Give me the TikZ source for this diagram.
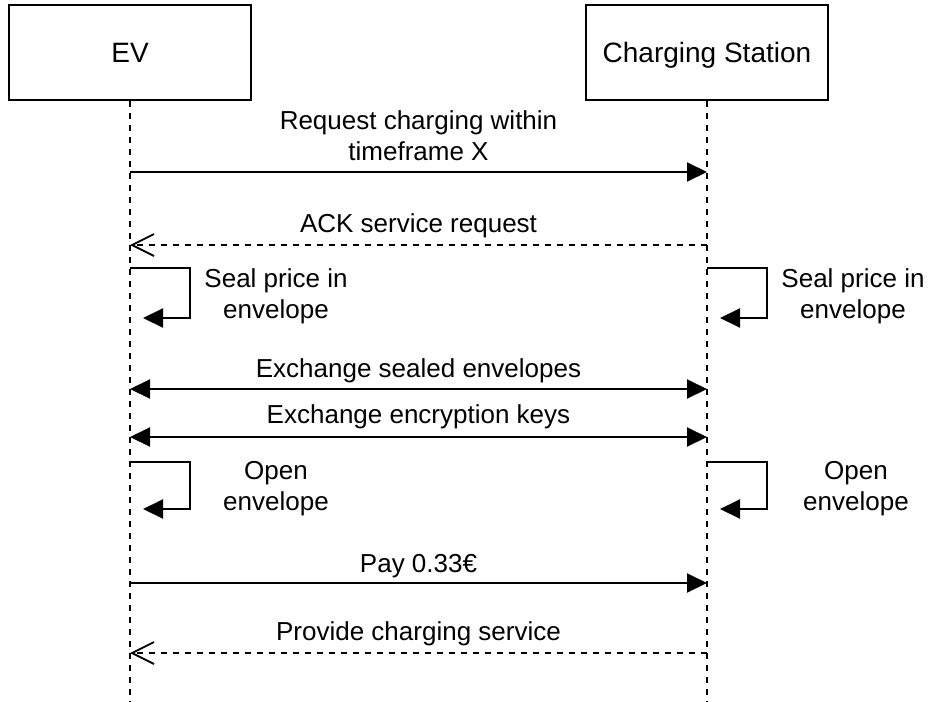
\documentclass[tikz,border=0pt]{standalone}
\usepackage{fontspec}
\setmainfont{Liberation Sans}
\usetikzlibrary{arrows.meta}
\begin{document}
\begin{tikzpicture}[x=1pt,y=-1pt,
  every node/.style={font=\fontsize{26pt}{31pt}\selectfont},
  actor/.style={draw, line width=1.8pt, minimum width=242pt, minimum height=95pt, inner sep=0pt, text height=20pt, text depth=0pt, font=\fontsize{28pt}{33pt}\selectfont},
  life/.style={line width=1.7pt, dash pattern=on 6pt off 6pt},
  lbl/.style={anchor=base, align=center, inner sep=0pt},
  sync/.style={line width=2pt, -{Triangle[length=20pt,width=19pt]}},
  both/.style={line width=2pt, {Triangle[length=20pt,width=19pt]}-{Triangle[length=20pt,width=19pt]}},
  reply/.style={line width=1.8pt, dash pattern=on 6pt off 6pt, -{Straight Barb[length=22pt,width=22pt,line width=1.8pt]}},
]
\useasboundingbox (0,0) rectangle (930,702);

% actors
\node[actor] (ev) at (130,52.5) {EV};
\node[actor] (cs) at (707,52.5) {Charging Station};

% lifeline ends
\coordinate (evEnd) at (130,702);
\coordinate (csEnd) at (707,702);
\draw[life] (ev.south) -- (evEnd);
\draw[life] (cs.south) -- (csEnd);

% message 1
\coordinate (a1) at (130,172);
\coordinate (b1) at (707,172);
\draw[sync] (a1) -- (b1);
\node[lbl] (t1) at (418.5,160) {Request charging within\\timeframe X};

% message 2
\coordinate (a2) at (130,245);
\coordinate (b2) at (707,245);
\draw[reply] (b2) -- (a2);
\node[lbl] (t2) at (418.5,232) {ACK service request};

% self: seal price
\coordinate (s1a) at (130,268);
\coordinate (s1b) at (190,268);
\coordinate (s1c) at (190,318);
\coordinate (s1d) at (143,318);
\draw[sync] (s1a) -- (s1b) -- (s1c) -- (s1d);
\node[lbl] (t3) at (276,318) {Seal price in\\envelope};

\coordinate (s2a) at (707,268);
\coordinate (s2b) at (767,268);
\coordinate (s2c) at (767,318);
\coordinate (s2d) at (720,318);
\draw[sync] (s2a) -- (s2b) -- (s2c) -- (s2d);
\node[lbl] (t4) at (853,318) {Seal price in\\envelope};

% exchange sealed envelopes
\coordinate (a3) at (130,389);
\coordinate (b3) at (707,389);
\draw[both] (a3) -- (b3);
\node[lbl] (t5) at (418.5,377) {Exchange sealed envelopes};

% exchange keys
\coordinate (a4) at (130,437);
\coordinate (b4) at (707,437);
\draw[both] (a4) -- (b4);
\node[lbl] (t6) at (418.5,423) {Exchange encryption keys};

% self: open envelope
\coordinate (o1a) at (130,462);
\coordinate (o1b) at (190,462);
\coordinate (o1c) at (190,509);
\coordinate (o1d) at (143,509);
\draw[sync] (o1a) -- (o1b) -- (o1c) -- (o1d);
\node[lbl] (t7) at (276,510) {Open\\envelope};

\coordinate (o2a) at (707,462);
\coordinate (o2b) at (767,462);
\coordinate (o2c) at (767,509);
\coordinate (o2d) at (720,509);
\draw[sync] (o2a) -- (o2b) -- (o2c) -- (o2d);
\node[lbl] (t8) at (856,510) {Open\\envelope};

% pay
\coordinate (a5) at (130,583);
\coordinate (b5) at (707,583);
\draw[sync] (a5) -- (b5);
\node[lbl] (t9) at (418.5,572) {Pay 0.33€};

% provide service
\coordinate (a6) at (130,653);
\coordinate (b6) at (707,653);
\draw[reply] (b6) -- (a6);
\node[lbl] (t10) at (418.5,640) {Provide charging service};
\end{tikzpicture}
\end{document}
